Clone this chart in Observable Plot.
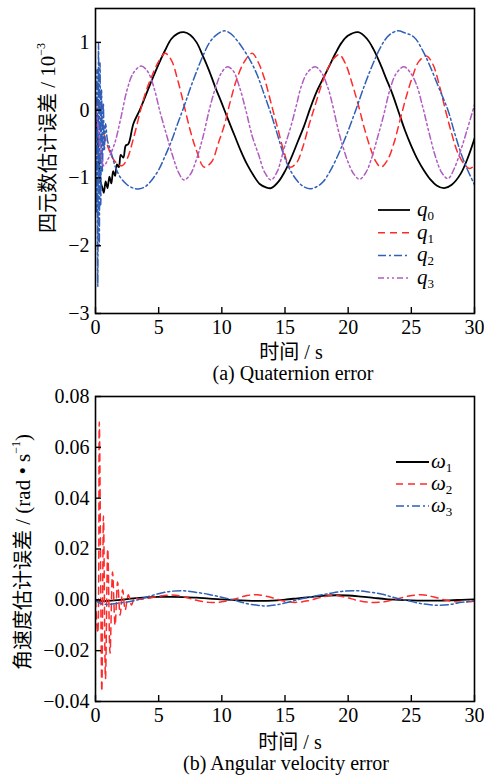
<!DOCTYPE html>
<html><head><meta charset="utf-8">
<script src="https://cdn.jsdelivr.net/npm/d3@7"></script>
<script src="https://cdn.jsdelivr.net/npm/@observablehq/plot@0.6"></script>
<style>
body{margin:0;background:#fff;}
#wrap{position:relative;width:484px;height:775px;overflow:hidden;font-family:"Liberation Serif",Tinos,"Nimbus Roman",FreeSerif,"Noto Serif","DejaVu Serif","Times New Roman",Times,serif;color:#000;}
.t{position:absolute;transform:translate(-50%,-50%);white-space:nowrap;font-size:20px;line-height:0.8;}
.yl{position:absolute;transform:translate(-50%,-50%) rotate(-90deg);white-space:nowrap;font-size:21px;line-height:1;}
.cjk{font-family:"Noto Sans CJK SC",sans-serif;font-size:20px;line-height:0.8;display:inline-block;}
sup{font-size:12px;vertical-align:top;position:relative;top:-3px;}
.plot{position:absolute;left:0;}
.leg{position:absolute;left:0;top:0;}
</style></head>
<body><div id="wrap"></div>
<script>
// ---------- data: panel (a) quaternion error (×10^-3) ----------
const xTicks = [0, 5, 10, 15, 20, 25, 30];
const qTicks = [-3, -2, -1, 0, 1];
const wTicks = [-0.04, -0.02, 0, 0.02, 0.04, 0.06, 0.08];

const q0T = [0,0.2,0.4,0.55,0.66,0.8,0.95,1.1,1.25,1.4,1.55,1.7,1.85,2.0,2.2,2.4,2.6,3.0,3.5,4.0,4.5,5.0,5.5,6.0,6.5,7.0,7.5,8.0,8.5,9.0,9.5,10.0,10.5,11.0,11.5,12.0,12.5,13.0,13.5,13.9,14.5,15.0,15.5,16.0,16.5,17.0,17.5,18.0,18.5,19.0,19.5,20.0,20.8,21.5,22.0,22.5,23.0,23.5,24.0,24.5,25.0,25.5,26.0,26.5,27.0,27.6,28.2,28.9,29.5,30.0];
const q0V = [0,-0.55,-1.05,-1.15,-1.22,-1.05,-1.15,-0.98,-1.08,-0.9,-0.97,-0.8,-0.84,-0.66,-0.7,-0.52,-0.5,-0.2,0.0,0.23,0.46,0.68,0.88,1.05,1.13,1.15,1.11,1.0,0.8,0.58,0.33,0.1,-0.14,-0.37,-0.6,-0.8,-0.96,-1.09,-1.14,-1.15,-1.05,-0.9,-0.7,-0.47,-0.24,0.03,0.27,0.46,0.65,0.84,1.0,1.1,1.15,1.05,0.9,0.7,0.47,0.24,-0.03,-0.3,-0.53,-0.73,-0.89,-1.02,-1.11,-1.15,-1.1,-0.94,-0.69,-0.42];

const q1T = [0,0.3,0.6,1.0,1.4,1.8,2.1,2.5,3.0,3.57,4.0,4.5,5.0,5.5,6.0,6.5,7.0,7.5,8.0,8.6,9.2,9.7,10.2,10.7,11.2,11.8,12.4,12.9,13.4,13.9,14.4,14.9,15.4,15.9,16.4,16.9,17.4,17.9,18.4,18.9,19.3,19.8,20.3,20.8,21.3,21.8,22.2,22.6,23.1,23.6,24.1,24.6,25.1,25.6,26.2,26.7,27.2,27.7,28.2,28.7,29.2,29.6,30.0];
const q1V = [0.15,0.1,-0.3,-0.55,-0.72,-0.8,-0.82,-0.72,-0.42,0.0,0.28,0.52,0.72,0.84,0.74,0.45,0.08,-0.3,-0.6,-0.84,-0.76,-0.5,-0.22,0.15,0.47,0.72,0.84,0.7,0.45,0.1,-0.25,-0.6,-0.84,-0.78,-0.55,-0.22,0.08,0.38,0.62,0.77,0.82,0.68,0.4,0.08,-0.28,-0.58,-0.76,-0.84,-0.74,-0.5,-0.15,0.2,0.5,0.72,0.8,0.68,0.38,0.0,-0.35,-0.64,-0.8,-0.86,-0.82];

const q2T = [0,0.06,0.12,0.18,0.24,0.3,0.36,0.42,0.48,0.55,0.62,0.7,0.8,0.95,1.2,1.6,2.0,2.5,3.0,3.5,4.0,4.5,5.0,5.5,6.0,6.5,7.0,7.5,8.0,8.5,9.0,9.5,10.2,10.7,11.2,11.7,12.2,12.8,13.3,13.9,14.4,14.9,15.4,16.0,16.5,17.0,17.5,18.0,18.6,19.3,19.9,20.6,21.3,22.0,22.6,23.2,23.9,24.5,25.2,25.9,26.5,27.2,27.9,28.4,28.9,29.4,30.0];
const q2V = [0,-1.5,0.6,-2.6,1.0,-2.0,0.7,-1.4,0.3,-0.9,0.1,-0.6,-0.2,-0.45,-0.6,-0.85,-1.0,-1.1,-1.15,-1.16,-1.12,-1.02,-0.88,-0.68,-0.46,-0.2,0.05,0.32,0.57,0.8,0.99,1.1,1.17,1.13,1.03,0.9,0.75,0.52,0.26,-0.06,-0.36,-0.66,-0.88,-1.05,-1.13,-1.16,-1.13,-1.06,-0.89,-0.62,-0.35,0.0,0.37,0.7,0.94,1.1,1.17,1.14,1.08,0.88,0.64,0.32,0.0,-0.32,-0.62,-0.86,-1.1];

const q3T = [0,0.3,0.66,1.0,1.5,2.0,2.5,3.0,3.6,4.1,4.6,5.1,5.6,6.1,6.6,7.0,7.5,8.0,8.5,9.0,9.5,10.0,10.45,10.9,11.4,11.9,12.4,12.9,13.4,13.9,14.4,14.7,15.0,15.45,15.9,16.3,16.8,17.4,17.9,18.4,18.8,19.2,19.6,20.0,20.4,20.9,21.4,21.8,22.3,22.8,23.3,23.8,24.4,24.9,25.4,25.9,26.4,26.9,27.4,27.9,28.4,28.9,29.4,30.0];
const q3V = [0.1,-0.4,-0.82,-0.72,-0.5,-0.12,0.3,0.55,0.65,0.58,0.35,-0.02,-0.35,-0.67,-0.93,-1.03,-0.95,-0.72,-0.4,0.0,0.33,0.56,0.64,0.58,0.34,0.0,-0.38,-0.65,-0.92,-1.03,-0.9,-0.72,-0.52,-0.25,0.07,0.36,0.56,0.64,0.55,0.33,0.05,-0.28,-0.55,-0.77,-0.93,-1.02,-0.92,-0.74,-0.42,-0.08,0.3,0.54,0.64,0.56,0.38,0.05,-0.33,-0.68,-0.92,-1.01,-0.86,-0.6,-0.3,0.08];

// ---------- data: panel (b) angular velocity error (rad/s) ----------
const w1T = [0,0.5,1,2,3,4,5,6,7,8,9,10,11,12,13,14,15,16,17,18,19,20,21,22,23,24,25,26,27,28,29,30];
const w1V = [0,-0.0005,-0.0004,0,0.0006,0.001,0.0012,0.0012,0.0011,0.0009,0.0005,0.0002,-0.0001,-0.0003,-0.0004,-0.0003,0.0001,0.0006,0.0011,0.0016,0.0018,0.0017,0.0013,0.0008,0.0003,0,-0.0002,-0.0003,-0.0003,-0.0002,0,0.0002];

const w2T = [0,0.18,0.3,0.5,0.63,0.79,0.97,1.15,1.35,1.55,1.75,1.95,2.15,2.35,2.6,2.85,3.1,3.4,4,5,6,7,8,9,10,11,12,12.8,13.8,14.8,15.8,16.8,17.8,18.8,19.8,20.8,21.8,22.8,23.8,24.8,25.8,26.8,27.8,28.8,29.5,30];
const w2V = [0,-0.013,0.070,-0.036,0.033,-0.031,0.020,-0.021,0.011,-0.010,0.007,-0.006,0.004,-0.004,0.002,-0.002,0.001,0.0003,0.0005,0.0014,0.0019,0.0012,-0.0002,-0.001,-0.0008,0.0003,0.0017,0.002,0.0011,-0.0004,-0.001,-0.0004,0.0009,0.0018,0.001,-0.0003,-0.001,-0.0008,0.0003,0.0015,0.002,0.0011,-0.0002,-0.0009,-0.0008,-0.0005];

const w3T = [0,0.3,0.66,1.0,1.5,2.0,3.0,4.0,4.9,5.9,6.9,7.9,8.9,9.9,10.9,11.9,12.9,13.6,14.5,15.5,16.5,17.5,18.5,19.5,20.6,21.6,22.7,23.7,24.8,25.8,26.9,27.9,29.0,30.0];
const w3V = [0,-0.0012,-0.0017,-0.0018,-0.0015,-0.0012,-0.0004,0.001,0.0023,0.0033,0.0036,0.003,0.0022,0.0011,0.0,-0.0014,-0.0022,-0.0024,-0.0018,-0.0006,0.0006,0.0016,0.0025,0.0033,0.0036,0.0031,0.0022,0.0008,-0.0004,-0.0015,-0.0021,-0.0019,-0.001,-0.0003];

// ---------- styles ----------
const RED = "#ff2a2a", BLUE = "#2f5fb8", PURPLE = "#b05cc2";
const SERIF = '"Liberation Serif",Tinos,"Nimbus Roman",FreeSerif,"Noto Serif","DejaVu Serif","Times New Roman",Times,serif';
const qNames = ["0", "1", "2", "3"];
const wNames = ["1", "2", "3"];

const zipTV = (T, V) => T.map((t, i) => ({t, v: V[i]}));

const W = 484, ML = 95, MR = 10, MT = 8, MB = 27, H = 340, TICK = 6;

function panel(series, yDomain, yTicks, yFormat) {
  const pw = W - ML - MR, ph = H - MT - MB;
  const marks = series.map(s => Plot.line(zipTV(s.T, s.V), {
    x: "t", y: "v", stroke: s.color, strokeWidth: s.width,
    strokeDasharray: s.dash, curve: "catmull-rom", clip: true
  }));
  marks.push(Plot.tickX(xTicks, {x: d => d, insetTop: ph - TICK, stroke: "black", strokeWidth: 1.4}));
  marks.push(Plot.tickY(yTicks, {y: d => d, insetRight: pw - TICK, stroke: "black", strokeWidth: 1.4}));
  marks.push(Plot.axisX({ticks: xTicks, tickSize: 0, tickPadding: 6, tickFormat: d => String(d), fontSize: 20, fontFamily: SERIF, label: null}));
  marks.push(Plot.axisY({ticks: yTicks, tickSize: 0, tickPadding: 6, tickFormat: yFormat, fontSize: 20, fontFamily: SERIF, label: null}));
  marks.push(Plot.frame({stroke: "black", strokeWidth: 1.6}));
  return Plot.plot({
    width: W, height: H, marginLeft: ML, marginRight: MR, marginTop: MT, marginBottom: MB,
    x: {domain: [0, 30]}, y: {domain: yDomain},
    style: {fontFamily: SERIF, fontSize: "20px", background: "transparent", color: "black", overflow: "visible"},
    marks
  });
}

const wrap = document.getElementById("wrap");

const p1 = panel([
  {T: q0T, V: q0V, color: "black", width: 1.8, dash: null},
  {T: q1T, V: q1V, color: RED, width: 1.5, dash: "7,5"},
  {T: q2T, V: q2V, color: BLUE, width: 1.5, dash: "8,3,2,3"},
  {T: q3T, V: q3V, color: PURPLE, width: 1.5, dash: "6,3,2,3,2,3"}
], [-3, 1.5], qTicks, d => d3.format("d")(d));
p1.classList.add("plot"); p1.style.top = "0px";
wrap.appendChild(p1);

const p2 = panel([
  {T: w1T, V: w1V, color: "black", width: 1.8, dash: null},
  {T: w2T, V: w2V, color: RED, width: 1.5, dash: "7,5"},
  {T: w3T, V: w3V, color: BLUE, width: 1.5, dash: "8,3,2,3"}
], [-0.04, 0.08], wTicks, d => d3.format(".2f")(d));
p2.classList.add("plot"); p2.style.top = "388px";
wrap.appendChild(p2);

// ---------- texts ----------
function addText(cls, x, y, html) {
  const d = document.createElement("div");
  d.className = cls; d.style.left = x + "px"; d.style.top = y + "px"; d.innerHTML = html;
  wrap.appendChild(d);
}
addText("yl", 48, 138, '<span class="cjk">四元数估计误差</span> / 10<sup>−3</sup>');
addText("yl", 23, 552, '<span class="cjk">角速度估计误差</span> / (rad • s<sup>−1</sup>)');
addText("t", 291, 351, '<span class="cjk">时间</span> / s');
addText("t", 293, 373, '(a) Quaternion error');
addText("t", 290, 741, '<span class="cjk">时间</span> / s');
addText("t", 286, 763, '(b) Angular velocity error');

// ---------- legends ----------
const NS = "http://www.w3.org/2000/svg";
const leg = document.createElementNS(NS, "svg");
leg.setAttribute("width", W); leg.setAttribute("height", 775); leg.setAttribute("class", "leg");
wrap.appendChild(leg);
function legend(items, x1, x2, tx, y0, dy, sym) {
  items.forEach((it, i) => {
    const y = y0 + i * dy;
    const l = document.createElementNS(NS, "line");
    l.setAttribute("x1", x1); l.setAttribute("x2", x2); l.setAttribute("y1", y); l.setAttribute("y2", y);
    l.setAttribute("stroke", it.color); l.setAttribute("stroke-width", it.width);
    if (it.dash) l.setAttribute("stroke-dasharray", it.dash);
    leg.appendChild(l);
    const t = document.createElementNS(NS, "text");
    t.setAttribute("x", tx); t.setAttribute("y", y + 6);
    t.style.fontFamily = SERIF; t.setAttribute("font-size", 21);
    const a = document.createElementNS(NS, "tspan");
    a.setAttribute("font-style", "italic"); a.textContent = sym;
    const b = document.createElementNS(NS, "tspan");
    b.setAttribute("font-size", 13); b.setAttribute("dy", 4); b.textContent = it.name;
    t.appendChild(a); t.appendChild(b);
    leg.appendChild(t);
  });
}
const qStyles = [
  {color: "black", width: 1.8, dash: null},
  {color: RED, width: 1.5, dash: "7,5"},
  {color: BLUE, width: 1.5, dash: "8,3,2,3"},
  {color: PURPLE, width: 1.5, dash: "6,3,2,3,2,3"}
];
legend(qNames.map((n, i) => ({...qStyles[i], name: n})), 378, 410, 417, 210, 22.7, "q");
legend(wNames.map((n, i) => ({...qStyles[i], name: n})), 396, 429, 431, 462, 22, "ω");
</script></body></html>
